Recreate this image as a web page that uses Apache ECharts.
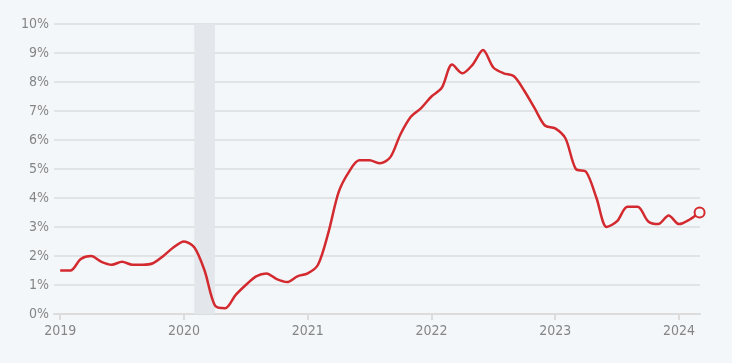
<!DOCTYPE html>
<html>
<head>
<meta charset="utf-8">
<script src="https://cdn.jsdelivr.net/npm/echarts@6/dist/echarts.min.js"></script>
<style>
html,body{margin:0;padding:0;background:#f4f7fa;}
#c{width:732px;height:363px;}
</style>
</head>
<body>
<div id="c"></div>
<script>
var months = [
'2019-01','2019-02','2019-03','2019-04','2019-05','2019-06','2019-07','2019-08','2019-09','2019-10','2019-11','2019-12',
'2020-01','2020-02','2020-03','2020-04','2020-05','2020-06','2020-07','2020-08','2020-09','2020-10','2020-11','2020-12',
'2021-01','2021-02','2021-03','2021-04','2021-05','2021-06','2021-07','2021-08','2021-09','2021-10','2021-11','2021-12',
'2022-01','2022-02','2022-03','2022-04','2022-05','2022-06','2022-07','2022-08','2022-09','2022-10','2022-11','2022-12',
'2023-01','2023-02','2023-03','2023-04','2023-05','2023-06','2023-07','2023-08','2023-09','2023-10','2023-11','2023-12',
'2024-01','2024-02','2024-03'
];
var inflation = [
1.5,1.5,1.9,2.0,1.8,1.7,1.8,1.7,1.7,1.75,2.0,2.3,
2.5,2.3,1.5,0.3,0.2,0.65,1.0,1.3,1.4,1.2,1.1,1.3,
1.4,1.7,2.8,4.2,4.9,5.3,5.3,5.2,5.4,6.2,6.8,7.1,
7.5,7.8,8.6,8.3,8.6,9.1,8.5,8.3,8.2,7.7,7.1,6.5,
6.4,6.05,5.0,4.9,4.0,3.0,3.2,3.7,3.7,3.2,3.1,3.4,
3.1,3.25,3.5
];
var yearTicks = [2019,2020,2021,2022,2023,2024];
var recession = ['2020-02','2020-04'];

function toYear(s){var p=s.split('-');return +p[0]+(+p[1]-1)/12;}
var pts = months.map(function(m,i){return [toYear(m), inflation[i]];});
var lastIdx = pts.length-1;

var font = '"Liberation Sans Narrow","Arial Narrow","DejaVu Sans Condensed",sans-serif';
var chart = echarts.init(document.getElementById('c'), null, {renderer:'canvas'});
chart.setOption({
  backgroundColor:'#f4f7fa',
  animation:false,
  grid:{left:54,right:32,top:24,bottom:49,containLabel:false},
  xAxis:{
    type:'value', min:2018.95, max:2024.17,
    axisLine:{show:true,lineStyle:{color:'#dcdcdc',width:2}},
    axisTick:{show:true,customValues:yearTicks,length:6,lineStyle:{color:'#dcdcdc',width:2}},
    axisLabel:{customValues:yearTicks,color:'#858585',fontFamily:font,fontSize:14,margin:10,
      formatter:function(v){return String(Math.round(v));}},
    splitLine:{show:false}
  },
  yAxis:{
    type:'value', min:0, max:10, interval:1,
    axisLine:{show:false}, axisTick:{show:false},
    axisLabel:{color:'#858585',fontFamily:font,fontSize:14,margin:5,formatter:'{value}%'},
    splitLine:{show:true,lineStyle:{color:'#dcdcdc',width:1.5}}
  },
  series:[{
    type:'line',
    data:pts,
    smooth:0.3,
    showSymbol:false,
    lineStyle:{color:'#d32a2f',width:2.5},
    itemStyle:{color:'#d32a2f'},
    markArea:{
      silent:true,
      itemStyle:{color:'#e3e6ea'},
      data:[[{xAxis:toYear(recession[0])},{xAxis:toYear(recession[1])}]]
    },
    markPoint:{
      silent:true,
      symbol:'circle', symbolSize:10,
      itemStyle:{color:'#f4f7fa',borderColor:'#d32a2f',borderWidth:2},
      label:{show:false},
      data:[{coord:pts[lastIdx]}]
    },
    z:3
  }]
});
</script>
</body>
</html>
